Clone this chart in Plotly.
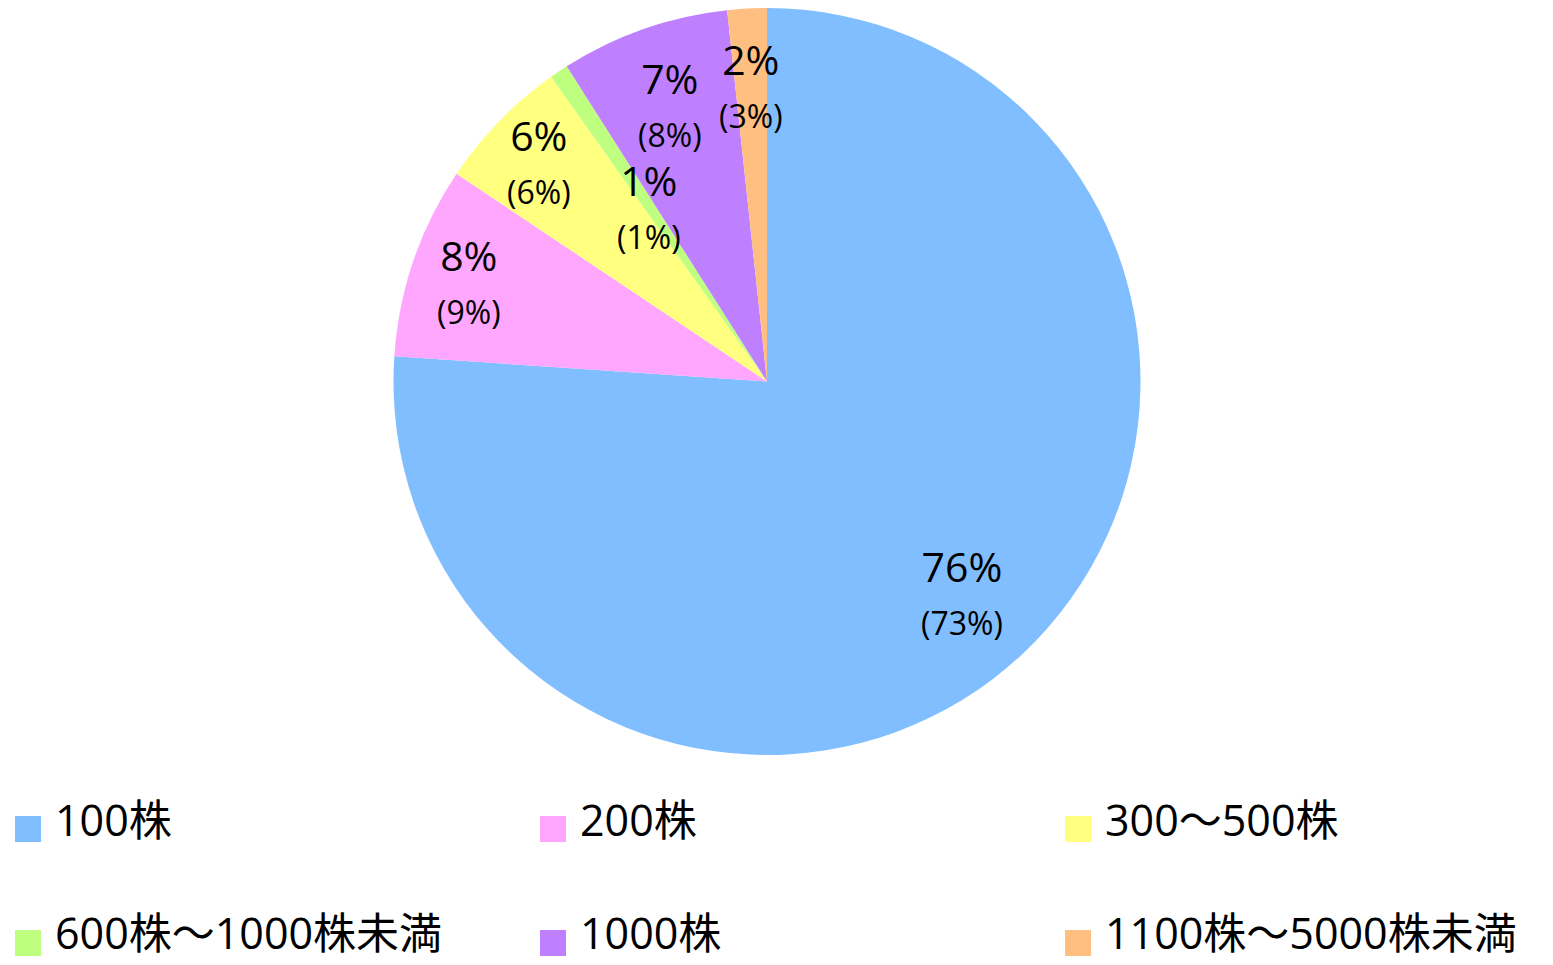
import math
import plotly.graph_objects as go

# ---- data ----
categories = ["100株", "200株", "300～500株", "600株～1000株未満", "1000株", "1100株～5000株未満"]
values = [76.0, 8.3, 5.8, 0.8, 7.3, 1.7]
share_labels = ["76%", "8%", "6%", "1%", "7%", "2%"]
prev_labels = ["73%", "9%", "6%", "1%", "8%", "3%"]
colors = ["#80BEFF", "#FFA6FF", "#FFFF80", "#BFFF80", "#BF80FF", "#FFBF80"]

# ---- layout constants (page pixels) ----
OFF = 8  # default page body margin
PAGE_W, PAGE_H = 1553, 965
W, H = PAGE_W - OFF, PAGE_H - OFF
CX, CY, R = 767.0 - OFF, 381.5 - OFF, 373.5
label_radius = [0.766, 0.843, 0.852, 0.568, 0.79, 0.797]
FONT = "Open Sans, Noto Sans CJK JP, sans-serif"


def px_x(x):
    return x / W


def px_y(y):
    return 1 - y / H


fig = go.Figure()
fig.add_trace(go.Pie(
    labels=categories,
    values=values,
    sort=False,
    direction="clockwise",
    rotation=0,
    marker=dict(colors=colors, line=dict(width=0)),
    textinfo="none",
    hoverinfo="label+percent",
    showlegend=False,
    domain=dict(x=[px_x(CX - R), px_x(CX + R)], y=[px_y(CY + R), px_y(CY - R)]),
))

annotations = []
shapes = []
total = sum(values)
cum = 0.0
for i, v in enumerate(values):
    mid = 2 * math.pi * (cum + v / 2) / total
    cum += v
    px = CX + label_radius[i] * R * math.sin(mid)
    py = CY - label_radius[i] * R * math.cos(mid)
    annotations.append(dict(
        x=px_x(px), y=px_y(py), xref="paper", yref="paper",
        text=f"{share_labels[i]}<br><span style='font-size:32px'>({prev_labels[i]})</span>",
        showarrow=False, xanchor="center", yanchor="middle",
        font=dict(family=FONT, size=41, color="#000000"),
    ))

# manual legend (3 columns x 2 rows), page pixel positions
col_x = [15, 540, 1065]
row_text_y = [819, 932]
row_marker_top = [816, 930]
MS = 26
for i, cat in enumerate(categories):
    r, c = divmod(i, 3)
    x0 = col_x[c] - OFF
    y0 = row_marker_top[r] - OFF
    shapes.append(dict(
        type="rect", xref="paper", yref="paper",
        x0=px_x(x0), x1=px_x(x0 + MS), y0=px_y(y0 + MS), y1=px_y(y0),
        fillcolor=colors[i], line=dict(width=0),
    ))
    annotations.append(dict(
        x=px_x(x0 + MS + 12), y=px_y(row_text_y[r] - OFF), xref="paper", yref="paper",
        text=cat, showarrow=False, xanchor="left", yanchor="middle",
        font=dict(family=FONT, size=43, color="#000000"),
    ))

fig.update_layout(
    width=W, height=H,
    margin=dict(l=0, r=0, t=0, b=0),
    paper_bgcolor="white", plot_bgcolor="white",
    annotations=annotations, shapes=shapes,
    showlegend=False,
)

fig.write_html("out.html")
